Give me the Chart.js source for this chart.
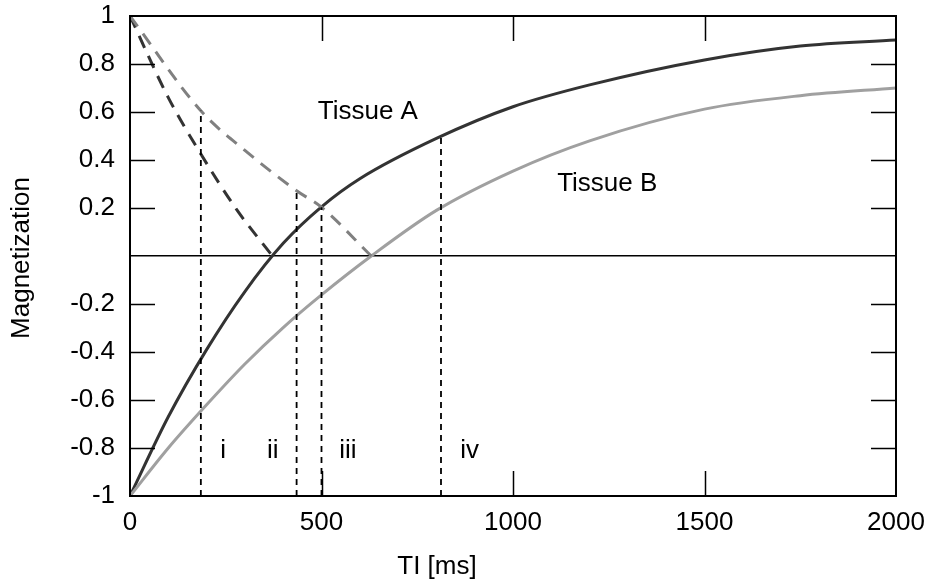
<!DOCTYPE html>
<html>
<head>
<meta charset="utf-8">
<script src="https://cdn.jsdelivr.net/npm/chart.js@4/dist/chart.umd.min.js"></script>
<style>
html,body{margin:0;padding:0;background:#fff;}
#wrap{width:931px;height:583px;}
</style>
</head>
<body>
<div id="wrap"><canvas id="c" width="931" height="583"></canvas></div>
<script>
// ---- data ----
const tiA      = [0, 100, 200, 300, 400, 500, 600, 800, 1000, 1200, 1500, 1750, 2000];
const tissueA  = [-1, -0.67, -0.39, -0.148, 0.053, 0.205, 0.322, 0.49, 0.622, 0.713, 0.817, 0.875, 0.9];
const tiB      = [0, 100, 200, 300, 400, 500, 630, 800, 1000, 1200, 1500, 1750, 2000];
const tissueB  = [-1, -0.80, -0.62, -0.45, -0.298, -0.162, 0, 0.19, 0.354, 0.48, 0.612, 0.668, 0.70];
const tiMagA   = [0, 100, 185, 280, 372];
const magA     = [1, 0.66, 0.425, 0.19, 0];
const tiMagB   = [0, 185, 300, 435, 500, 630];
const magB     = [1, 0.605, 0.44, 0.272, 0.203, 0];
const markerTI  = [185, 435, 500, 812];
const markerTop = [0.605, 0.272, 0.203, 0.497];
const xTicks = [0, 500, 1000, 1500, 2000];
const yTicks = [-1, -0.8, -0.6, -0.4, -0.2, 0, 0.2, 0.4, 0.6, 0.8, 1];
const yTickLabels = ['-1', '-0.8', '-0.6', '-0.4', '-0.2', '', '0.2', '0.4', '0.6', '0.8', '1'];
const noteText = ['Tissue A', 'Tissue B', 'i', 'ii', 'iii', 'iv'];
const noteX    = [621, 1246, 243, 373, 569, 887];
const noteY    = [0.6, 0.3, -0.81, -0.81, -0.81, -0.81];
const xTitle = 'TI [ms]';
const yTitle = 'Magnetization';

const FONT = '"Liberation Sans", Arial, sans-serif';
const FS = 26;
const pts = (xs, ys) => xs.map((x, i) => ({x: x, y: ys[i]}));

const datasets = [];
markerTI.forEach((t, i) => {
  datasets.push({data: [{x: t, y: -1}, {x: t, y: markerTop[i]}], borderColor: '#000',
    borderWidth: 1.8, borderDash: [6, 5], pointRadius: 0, fill: false});
});
datasets.push({data: pts(tiMagB, magB), borderColor: '#808080', borderWidth: 3, borderDash: [13, 9],
  pointRadius: 0, cubicInterpolationMode: 'monotone', fill: false});
datasets.push({data: pts(tiMagA, magA), borderColor: '#333333', borderWidth: 3, borderDash: [13, 9],
  pointRadius: 0, cubicInterpolationMode: 'monotone', fill: false});
datasets.push({data: pts(tiB, tissueB), borderColor: '#a0a0a0', borderWidth: 3,
  pointRadius: 0, cubicInterpolationMode: 'monotone', fill: false});
datasets.push({data: pts(tiA, tissueA), borderColor: '#333333', borderWidth: 3,
  pointRadius: 0, cubicInterpolationMode: 'monotone', fill: false});

const framePlugin = {
  id: 'frame',
  afterDraw(chart) {
    const ctx = chart.ctx, a = chart.chartArea;
    const xs = chart.scales.x, ys = chart.scales.y;
    ctx.save();
    ctx.strokeStyle = '#000';
    ctx.lineWidth = 1.5;
    ctx.beginPath();
    const TL = 25;
    yTicks.forEach(v => {
      if (v === -1 || v === 1 || v === 0) return;
      const py = Math.round(ys.getPixelForValue(v)) + 0.5;
      ctx.moveTo(a.left, py); ctx.lineTo(a.left + TL, py);
      ctx.moveTo(a.right, py); ctx.lineTo(a.right - TL, py);
    });
    xTicks.forEach(v => {
      if (v === 0 || v === 2000) return;
      const px = Math.round(xs.getPixelForValue(v)) + 0.5;
      ctx.moveTo(px, a.bottom); ctx.lineTo(px, a.bottom - TL);
      ctx.moveTo(px, a.top); ctx.lineTo(px, a.top + TL);
    });
    ctx.stroke();
    ctx.lineWidth = 2;
    ctx.strokeRect(a.left, a.top, a.right - a.left, a.bottom - a.top);
    // notes
    ctx.fillStyle = '#000';
    ctx.font = FS + 'px ' + FONT;
    ctx.textAlign = 'center';
    ctx.textBaseline = 'middle';
    noteText.forEach((t, i) => {
      ctx.fillText(t, xs.getPixelForValue(noteX[i]), ys.getPixelForValue(noteY[i]));
    });
    // axis titles
    ctx.fillText(xTitle, 437, 567);
    ctx.save();
    ctx.translate(22, (a.top + a.bottom) / 2 + 2);
    ctx.rotate(-Math.PI / 2);
    ctx.fillText(yTitle, 0, 0);
    ctx.restore();
    ctx.restore();
  }
};

new Chart(document.getElementById('c'), {
  type: 'line',
  data: {datasets: datasets},
  plugins: [framePlugin],
  options: {
    responsive: false,
    devicePixelRatio: 1,
    animation: false,
    layout: {padding: {left: 0, right: 35, top: 16, bottom: 0}},
    plugins: {legend: {display: false}, tooltip: {enabled: false}},
    scales: {
      x: {
        type: 'linear', min: 0, max: 2000,
        afterBuildTicks: s => { s.ticks = xTicks.map(v => ({value: v})); },
        afterFit: s => { s.height = 87; s.paddingLeft = 0; s.paddingRight = 0; },
        grid: {display: false, drawTicks: false},
        border: {display: false},
        ticks: {color: '#000', font: {family: FONT, size: FS}, padding: 11, maxRotation: 0,
          callback: v => String(v)}
      },
      y: {
        type: 'linear', min: -1, max: 1,
        afterBuildTicks: s => { s.ticks = yTicks.map(v => ({value: v})); },
        afterFit: s => { s.width = 130; s.paddingTop = 0; s.paddingBottom = 0; },
        grid: {display: true, drawTicks: false, lineWidth: 1.5,
          color: c => (c.tick && Math.abs(c.tick.value) < 1e-9) ? '#000' : 'rgba(0,0,0,0)'},
        border: {display: false},
        ticks: {color: '#000', font: {family: FONT, size: FS}, padding: 15,
          callback: (v, i) => yTickLabels[yTicks.findIndex(t => Math.abs(t - v) < 1e-9)]}
      }
    }
  }
});
</script>
</body>
</html>
